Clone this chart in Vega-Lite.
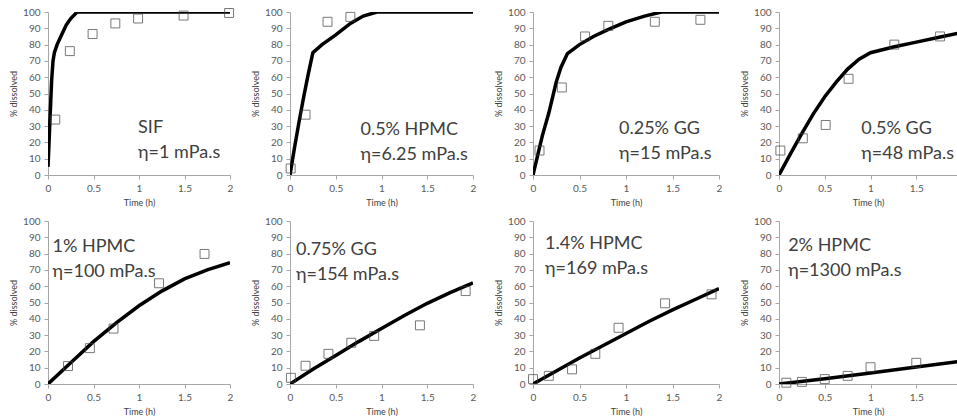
{
  "$schema": "https://vega.github.io/schema/vega-lite/v6.json",
  "background": "white",
  "padding": {"left": 9, "top": 6, "right": 0, "bottom": 0},
  "autosize": {"type": "pad"},
  "datasets": {
    "obs": [
      {"p": "SIF", "t": 0.08, "pct": 34}, {"p": "SIF", "t": 0.24, "pct": 76}, {"p": "SIF", "t": 0.49, "pct": 86.5}, {"p": "SIF", "t": 0.74, "pct": 93}, {"p": "SIF", "t": 0.99, "pct": 96}, {"p": "SIF", "t": 1.49, "pct": 97.8}, {"p": "SIF", "t": 1.99, "pct": 99.4},
      {"p": "H05", "t": 0.007, "pct": 4}, {"p": "H05", "t": 0.17, "pct": 37}, {"p": "H05", "t": 0.41, "pct": 94}, {"p": "H05", "t": 0.66, "pct": 97},
      {"p": "G025", "t": 0.07, "pct": 15}, {"p": "G025", "t": 0.31, "pct": 53.7}, {"p": "G025", "t": 0.56, "pct": 85}, {"p": "G025", "t": 0.81, "pct": 91.5}, {"p": "G025", "t": 1.31, "pct": 94}, {"p": "G025", "t": 1.8, "pct": 95.2},
      {"p": "G05", "t": 0.015, "pct": 15}, {"p": "G05", "t": 0.26, "pct": 22.5}, {"p": "G05", "t": 0.51, "pct": 30.7}, {"p": "G05", "t": 0.76, "pct": 59}, {"p": "G05", "t": 1.26, "pct": 80}, {"p": "G05", "t": 1.76, "pct": 85},
      {"p": "H1", "t": 0.22, "pct": 11}, {"p": "H1", "t": 0.46, "pct": 22}, {"p": "H1", "t": 0.72, "pct": 34}, {"p": "H1", "t": 1.22, "pct": 61.8}, {"p": "H1", "t": 1.72, "pct": 79.8},
      {"p": "G075", "t": 0.01, "pct": 3.8}, {"p": "G075", "t": 0.17, "pct": 11.2}, {"p": "G075", "t": 0.42, "pct": 18.5}, {"p": "G075", "t": 0.67, "pct": 25.3}, {"p": "G075", "t": 0.92, "pct": 29.5}, {"p": "G075", "t": 1.42, "pct": 36}, {"p": "G075", "t": 1.92, "pct": 57},
      {"p": "H14", "t": 0.0, "pct": 3}, {"p": "H14", "t": 0.17, "pct": 5}, {"p": "H14", "t": 0.42, "pct": 9}, {"p": "H14", "t": 0.67, "pct": 18.5}, {"p": "H14", "t": 0.92, "pct": 34.5}, {"p": "H14", "t": 1.42, "pct": 49.5}, {"p": "H14", "t": 1.92, "pct": 55},
      {"p": "H2", "t": 0.08, "pct": 0.8}, {"p": "H2", "t": 0.25, "pct": 1.3}, {"p": "H2", "t": 0.5, "pct": 3}, {"p": "H2", "t": 0.75, "pct": 5}, {"p": "H2", "t": 1.0, "pct": 10.3}, {"p": "H2", "t": 1.5, "pct": 13}
    ],
    "fit": [
      {"p": "SIF", "t": 0, "pct": 5}, {"p": "SIF", "t": 0.01, "pct": 18}, {"p": "SIF", "t": 0.02, "pct": 32}, {"p": "SIF", "t": 0.03, "pct": 45}, {"p": "SIF", "t": 0.04, "pct": 58}, {"p": "SIF", "t": 0.055, "pct": 70}, {"p": "SIF", "t": 0.07, "pct": 75}, {"p": "SIF", "t": 0.1, "pct": 80}, {"p": "SIF", "t": 0.15, "pct": 86}, {"p": "SIF", "t": 0.2, "pct": 92}, {"p": "SIF", "t": 0.25, "pct": 96}, {"p": "SIF", "t": 0.32, "pct": 100}, {"p": "SIF", "t": 2, "pct": 100},
      {"p": "H05", "t": 0, "pct": 0}, {"p": "H05", "t": 0.05, "pct": 17}, {"p": "H05", "t": 0.1, "pct": 33}, {"p": "H05", "t": 0.15, "pct": 48}, {"p": "H05", "t": 0.2, "pct": 62}, {"p": "H05", "t": 0.25, "pct": 75}, {"p": "H05", "t": 0.35, "pct": 80}, {"p": "H05", "t": 0.5, "pct": 86}, {"p": "H05", "t": 0.66, "pct": 93}, {"p": "H05", "t": 0.8, "pct": 97.5}, {"p": "H05", "t": 0.95, "pct": 100}, {"p": "H05", "t": 2, "pct": 100},
      {"p": "G025", "t": 0, "pct": 0}, {"p": "G025", "t": 0.05, "pct": 12}, {"p": "G025", "t": 0.1, "pct": 24}, {"p": "G025", "t": 0.17, "pct": 38}, {"p": "G025", "t": 0.25, "pct": 57}, {"p": "G025", "t": 0.3, "pct": 66}, {"p": "G025", "t": 0.37, "pct": 74.5}, {"p": "G025", "t": 0.5, "pct": 80}, {"p": "G025", "t": 0.65, "pct": 85}, {"p": "G025", "t": 0.8, "pct": 89}, {"p": "G025", "t": 1.0, "pct": 94}, {"p": "G025", "t": 1.2, "pct": 97.5}, {"p": "G025", "t": 1.38, "pct": 100}, {"p": "G025", "t": 2, "pct": 100},
      {"p": "G05", "t": 0, "pct": 0}, {"p": "G05", "t": 0.125, "pct": 13}, {"p": "G05", "t": 0.25, "pct": 25.5}, {"p": "G05", "t": 0.375, "pct": 37.5}, {"p": "G05", "t": 0.5, "pct": 48}, {"p": "G05", "t": 0.625, "pct": 57}, {"p": "G05", "t": 0.75, "pct": 65}, {"p": "G05", "t": 0.875, "pct": 71}, {"p": "G05", "t": 1.0, "pct": 75}, {"p": "G05", "t": 1.25, "pct": 78.5}, {"p": "G05", "t": 1.5, "pct": 81.5}, {"p": "G05", "t": 1.75, "pct": 84.5}, {"p": "G05", "t": 2.0, "pct": 87.5},
      {"p": "H1", "t": 0, "pct": 0}, {"p": "H1", "t": 0.25, "pct": 13}, {"p": "H1", "t": 0.5, "pct": 26}, {"p": "H1", "t": 0.75, "pct": 37.5}, {"p": "H1", "t": 1.0, "pct": 48}, {"p": "H1", "t": 1.25, "pct": 57}, {"p": "H1", "t": 1.5, "pct": 64.5}, {"p": "H1", "t": 1.75, "pct": 70}, {"p": "H1", "t": 2.0, "pct": 74.5},
      {"p": "G075", "t": 0, "pct": 0}, {"p": "G075", "t": 0.25, "pct": 9}, {"p": "G075", "t": 0.5, "pct": 17.5}, {"p": "G075", "t": 0.75, "pct": 26}, {"p": "G075", "t": 1.0, "pct": 34}, {"p": "G075", "t": 1.25, "pct": 42}, {"p": "G075", "t": 1.5, "pct": 49.5}, {"p": "G075", "t": 1.75, "pct": 56}, {"p": "G075", "t": 2.0, "pct": 62},
      {"p": "H14", "t": 0, "pct": 0}, {"p": "H14", "t": 0.25, "pct": 8}, {"p": "H14", "t": 0.5, "pct": 16}, {"p": "H14", "t": 0.75, "pct": 23.5}, {"p": "H14", "t": 1.0, "pct": 31}, {"p": "H14", "t": 1.25, "pct": 38.5}, {"p": "H14", "t": 1.5, "pct": 45.5}, {"p": "H14", "t": 1.75, "pct": 52}, {"p": "H14", "t": 2.0, "pct": 58.5},
      {"p": "H2", "t": 0, "pct": 0}, {"p": "H2", "t": 0.5, "pct": 3.2}, {"p": "H2", "t": 1.0, "pct": 6.8}, {"p": "H2", "t": 1.5, "pct": 10.4}, {"p": "H2", "t": 2.0, "pct": 14}
    ]
  },
  "columns": 4,
  "spacing": {"row": 46, "column": 60},
  "bounds": "flush",
  "concat": [
    {
      "width": 182, "height": 163,
      "layer": [
        {"data": {"name": "fit"}, "transform": [{"filter": "datum.p == 'SIF'"}], "mark": {"type": "line", "color": "#000000", "strokeWidth": 3.5, "clip": true},
         "encoding": {"x": {"field": "t", "type": "quantitative", "scale": {"domain": [0, 2], "nice": false}, "axis": {"values": [0, 0.5, 1, 1.5, 2], "title": "Time (h)"}},
                      "y": {"field": "pct", "type": "quantitative", "scale": {"domain": [0, 100], "nice": false}, "axis": {"title": "% dissolved"}}}},
        {"data": {"name": "obs"}, "transform": [{"filter": "datum.p == 'SIF'"}], "mark": {"type": "point", "shape": "square", "filled": false, "size": 80, "stroke": "#404040", "strokeWidth": 1},
         "encoding": {"x": {"field": "t", "type": "quantitative"}, "y": {"field": "pct", "type": "quantitative"}}},
        {"data": {"values": [{}]}, "mark": {"type": "text", "text": ["SIF", "η=1 mPa.s"], "align": "left", "baseline": "middle", "fontSize": 18, "lineHeight": 25, "font": "Lato", "color": "#404040"},
         "encoding": {"x": {"datum": 0.99}, "y": {"datum": 29}}}
      ]
    },
    {
      "width": 183, "height": 163,
      "layer": [
        {"data": {"name": "fit"}, "transform": [{"filter": "datum.p == 'H05'"}], "mark": {"type": "line", "color": "#000000", "strokeWidth": 3.5, "clip": true},
         "encoding": {"x": {"field": "t", "type": "quantitative", "scale": {"domain": [0, 2], "nice": false}, "axis": {"values": [0, 0.5, 1, 1.5, 2], "title": "Time (h)"}},
                      "y": {"field": "pct", "type": "quantitative", "scale": {"domain": [0, 100], "nice": false}, "axis": {"title": "% dissolved"}}}},
        {"data": {"name": "obs"}, "transform": [{"filter": "datum.p == 'H05'"}], "mark": {"type": "point", "shape": "square", "filled": false, "size": 80, "stroke": "#404040", "strokeWidth": 1},
         "encoding": {"x": {"field": "t", "type": "quantitative"}, "y": {"field": "pct", "type": "quantitative"}}},
        {"data": {"values": [{}]}, "mark": {"type": "text", "text": ["0.5% HPMC", "η=6.25 mPa.s"], "align": "left", "baseline": "middle", "fontSize": 18, "lineHeight": 25, "font": "Lato", "color": "#404040"},
         "encoding": {"x": {"datum": 0.77}, "y": {"datum": 27.8}}}
      ]
    },
    {
      "width": 186, "height": 163,
      "layer": [
        {"data": {"name": "fit"}, "transform": [{"filter": "datum.p == 'G025'"}], "mark": {"type": "line", "color": "#000000", "strokeWidth": 3.5, "clip": true},
         "encoding": {"x": {"field": "t", "type": "quantitative", "scale": {"domain": [0, 2], "nice": false}, "axis": {"values": [0, 0.5, 1, 1.5, 2], "title": "Time (h)"}},
                      "y": {"field": "pct", "type": "quantitative", "scale": {"domain": [0, 100], "nice": false}, "axis": {"title": "% dissolved"}}}},
        {"data": {"name": "obs"}, "transform": [{"filter": "datum.p == 'G025'"}], "mark": {"type": "point", "shape": "square", "filled": false, "size": 80, "stroke": "#404040", "strokeWidth": 1},
         "encoding": {"x": {"field": "t", "type": "quantitative"}, "y": {"field": "pct", "type": "quantitative"}}},
        {"data": {"values": [{}]}, "mark": {"type": "text", "text": ["0.25% GG", "η=15 mPa.s"], "align": "left", "baseline": "middle", "fontSize": 18, "lineHeight": 25, "font": "Lato", "color": "#404040"},
         "encoding": {"x": {"datum": 0.925}, "y": {"datum": 28}}}
      ]
    },
    {
      "width": 178, "height": 163,
      "layer": [
        {"data": {"name": "fit"}, "transform": [{"filter": "datum.p == 'G05'"}], "mark": {"type": "line", "color": "#000000", "strokeWidth": 3.5, "clip": true},
         "encoding": {"x": {"field": "t", "type": "quantitative", "scale": {"domain": [0, 1.945], "nice": false}, "axis": {"values": [0, 0.5, 1, 1.5], "title": "Time (h)"}},
                      "y": {"field": "pct", "type": "quantitative", "scale": {"domain": [0, 100], "nice": false}, "axis": {"title": "% dissolved"}}}},
        {"data": {"name": "obs"}, "transform": [{"filter": "datum.p == 'G05'"}], "mark": {"type": "point", "shape": "square", "filled": false, "size": 80, "stroke": "#404040", "strokeWidth": 1},
         "encoding": {"x": {"field": "t", "type": "quantitative"}, "y": {"field": "pct", "type": "quantitative"}}},
        {"data": {"values": [{}]}, "mark": {"type": "text", "text": ["0.5% GG", "η=48 mPa.s"], "align": "left", "baseline": "middle", "fontSize": 18, "lineHeight": 25, "font": "Lato", "color": "#404040"},
         "encoding": {"x": {"datum": 0.9}, "y": {"datum": 28.4}}}
      ]
    },
    {
      "width": 182, "height": 163,
      "layer": [
        {"data": {"name": "fit"}, "transform": [{"filter": "datum.p == 'H1'"}], "mark": {"type": "line", "color": "#000000", "strokeWidth": 3.5, "clip": true},
         "encoding": {"x": {"field": "t", "type": "quantitative", "scale": {"domain": [0, 2], "nice": false}, "axis": {"values": [0, 0.5, 1, 1.5, 2], "title": "Time (h)"}},
                      "y": {"field": "pct", "type": "quantitative", "scale": {"domain": [0, 100], "nice": false}, "axis": {"title": "% dissolved"}}}},
        {"data": {"name": "obs"}, "transform": [{"filter": "datum.p == 'H1'"}], "mark": {"type": "point", "shape": "square", "filled": false, "size": 80, "stroke": "#404040", "strokeWidth": 1},
         "encoding": {"x": {"field": "t", "type": "quantitative"}, "y": {"field": "pct", "type": "quantitative"}}},
        {"data": {"values": [{}]}, "mark": {"type": "text", "text": ["1% HPMC", "η=100 mPa.s"], "align": "left", "baseline": "middle", "fontSize": 18, "lineHeight": 25, "font": "Lato", "color": "#404040"},
         "encoding": {"x": {"datum": 0.05}, "y": {"datum": 84}}}
      ]
    },
    {
      "width": 183, "height": 163,
      "layer": [
        {"data": {"name": "fit"}, "transform": [{"filter": "datum.p == 'G075'"}], "mark": {"type": "line", "color": "#000000", "strokeWidth": 3.5, "clip": true},
         "encoding": {"x": {"field": "t", "type": "quantitative", "scale": {"domain": [0, 2], "nice": false}, "axis": {"values": [0, 0.5, 1, 1.5, 2], "title": "Time (h)"}},
                      "y": {"field": "pct", "type": "quantitative", "scale": {"domain": [0, 100], "nice": false}, "axis": {"title": "% dissolved"}}}},
        {"data": {"name": "obs"}, "transform": [{"filter": "datum.p == 'G075'"}], "mark": {"type": "point", "shape": "square", "filled": false, "size": 80, "stroke": "#404040", "strokeWidth": 1},
         "encoding": {"x": {"field": "t", "type": "quantitative"}, "y": {"field": "pct", "type": "quantitative"}}},
        {"data": {"values": [{}]}, "mark": {"type": "text", "text": ["0.75% GG", "η=154 mPa.s"], "align": "left", "baseline": "middle", "fontSize": 18, "lineHeight": 25, "font": "Lato", "color": "#404040"},
         "encoding": {"x": {"datum": 0.065}, "y": {"datum": 82}}}
      ]
    },
    {
      "width": 186, "height": 163,
      "layer": [
        {"data": {"name": "fit"}, "transform": [{"filter": "datum.p == 'H14'"}], "mark": {"type": "line", "color": "#000000", "strokeWidth": 3.5, "clip": true},
         "encoding": {"x": {"field": "t", "type": "quantitative", "scale": {"domain": [0, 2], "nice": false}, "axis": {"values": [0, 0.5, 1, 1.5, 2], "title": "Time (h)"}},
                      "y": {"field": "pct", "type": "quantitative", "scale": {"domain": [0, 100], "nice": false}, "axis": {"title": "% dissolved"}}}},
        {"data": {"name": "obs"}, "transform": [{"filter": "datum.p == 'H14'"}], "mark": {"type": "point", "shape": "square", "filled": false, "size": 80, "stroke": "#404040", "strokeWidth": 1},
         "encoding": {"x": {"field": "t", "type": "quantitative"}, "y": {"field": "pct", "type": "quantitative"}}},
        {"data": {"values": [{}]}, "mark": {"type": "text", "text": ["1.4% HPMC", "η=169 mPa.s"], "align": "left", "baseline": "middle", "fontSize": 18, "lineHeight": 25, "font": "Lato", "color": "#404040"},
         "encoding": {"x": {"datum": 0.13}, "y": {"datum": 86}}}
      ]
    },
    {
      "width": 178, "height": 163,
      "layer": [
        {"data": {"name": "fit"}, "transform": [{"filter": "datum.p == 'H2'"}], "mark": {"type": "line", "color": "#000000", "strokeWidth": 3.5, "clip": true},
         "encoding": {"x": {"field": "t", "type": "quantitative", "scale": {"domain": [0, 1.945], "nice": false}, "axis": {"values": [0, 0.5, 1, 1.5], "title": "Time (h)"}},
                      "y": {"field": "pct", "type": "quantitative", "scale": {"domain": [0, 100], "nice": false}, "axis": {"title": "% dissolved"}}}},
        {"data": {"name": "obs"}, "transform": [{"filter": "datum.p == 'H2'"}], "mark": {"type": "point", "shape": "square", "filled": false, "size": 80, "stroke": "#404040", "strokeWidth": 1},
         "encoding": {"x": {"field": "t", "type": "quantitative"}, "y": {"field": "pct", "type": "quantitative"}}},
        {"data": {"values": [{}]}, "mark": {"type": "text", "text": ["2% HPMC", "η=1300 mPa.s"], "align": "left", "baseline": "middle", "fontSize": 18, "lineHeight": 25, "font": "Lato", "color": "#404040"},
         "encoding": {"x": {"datum": 0.1}, "y": {"datum": 84.7}}}
      ]
    }
  ],
  "config": {
    "view": {"stroke": null},
    "font": "Lato",
    "axis": {"grid": false, "domainColor": "#a6a6a6", "tickColor": "#a6a6a6", "tickSize": 4, "labelColor": "#595959", "labelFontSize": 10, "labelFont": "Lato", "titleFont": "Lato", "titleFontSize": 9, "titleColor": "#404040", "titleFontWeight": "normal", "labelFlush": false, "labelOverlap": false},
    "axisX": {"format": "~g", "labelPadding": 4, "titlePadding": 5},
    "axisY": {"format": "d", "labelPadding": 4, "titlePadding": 4, "tickCount": 10}
  }
}
